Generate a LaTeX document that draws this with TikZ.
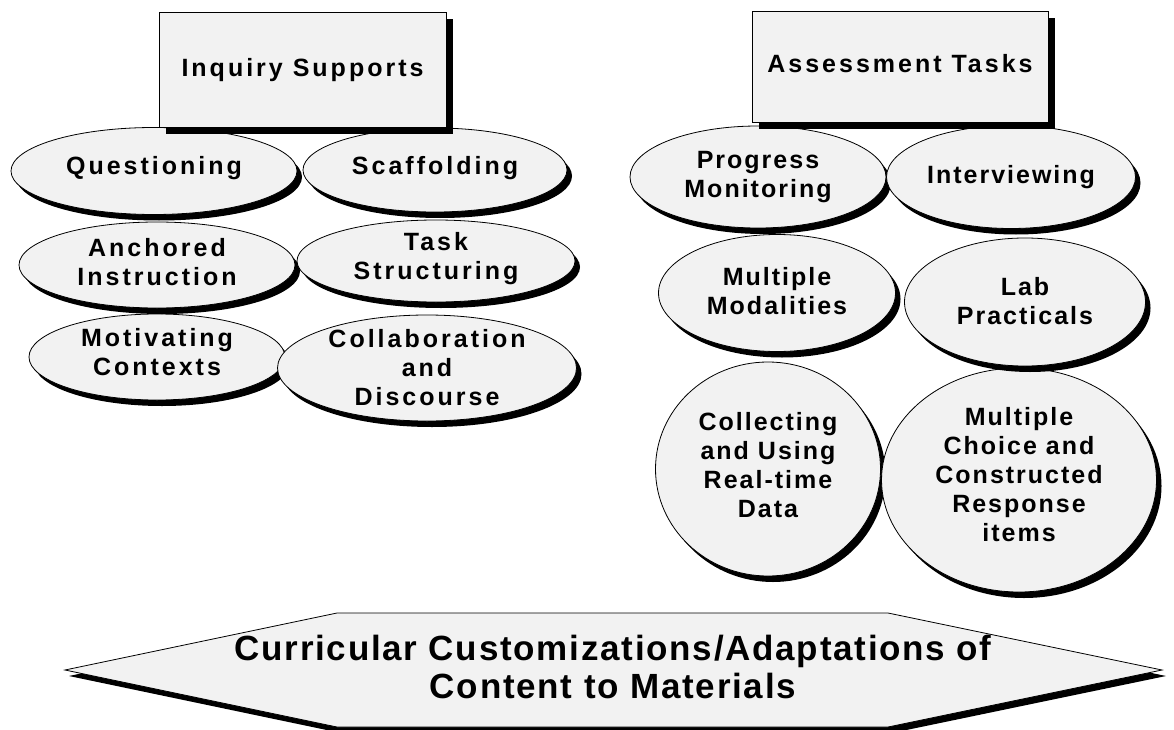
\documentclass[tikz,border=0pt]{standalone}
\usepackage{fontspec}
\usetikzlibrary{shapes.geometric,shadows}
\newfontfamily\lblfontL[LetterSpace=12]{Liberation Sans}
\newfontfamily\lblfontR[LetterSpace=8]{Liberation Sans}
\newfontfamily\bigfont[LetterSpace=5]{Liberation Sans}
\definecolor{shapegray}{RGB}{242,242,242}
\begin{document}
\begin{tikzpicture}[x=1pt,y=-1pt,
  oval/.style={ellipse, draw=black, line width=0.8pt, fill=shapegray, inner sep=0pt, outer sep=0pt,
    drop shadow={shadow xshift=5pt, shadow yshift=-6pt, fill=black, opacity=1}},
  titlebox/.style={rectangle, draw=black, line width=0.8pt, fill=shapegray, inner sep=0pt, outer sep=0pt,
    drop shadow={shadow xshift=7pt, shadow yshift=-7pt, fill=black, opacity=1}},
  titletext/.style={inner sep=0pt, font=\lblfontL\fontsize{25}{29}\bfseries},
  lblL/.style={align=center, inner sep=0pt, font=\lblfontL\fontsize{25}{29}\bfseries},
  lblR/.style={align=center, inner sep=0pt, font=\lblfontR\fontsize{25}{29}\bfseries},
  banner/.style={draw=black, line width=0.8pt, fill=shapegray,
    drop shadow={shadow xshift=4pt, shadow yshift=-6pt, fill=black, opacity=1}},
  bannertext/.style={align=center, inner sep=0pt, font=\bigfont\fontsize{35}{38}\bfseries}
]
\fill[white] (0,0) rectangle (1174,730);
\useasboundingbox (0,0) rectangle (1174,730);

% ---- left group (bottom rows first) ----
\node[oval, minimum width=256, minimum height=86] (mot) at (157,357) {};
\node[lblL] (motT) at (157,352) {Motivating\\Contexts};
\node[oval, minimum width=299, minimum height=106] (col) at (427,368) {};
\node[lblL] (colT) at (427,368) {Collaboration\\and\\Discourse};

\node[oval, minimum width=276, minimum height=86] (anc) at (157,265) {};
\node[lblL] (ancT) at (157,262) {Anchored\\Instruction};
\node[oval, minimum width=278, minimum height=82] (tsk) at (436,261) {};
\node[lblL] (tskT) at (436,259) {Task\\Structuring};

\node[oval, minimum width=286, minimum height=87] (que) at (154,171) {};
\node[lblL] (queT) at (154,168) {Questioning};
\node[oval, minimum width=264, minimum height=84] (sca) at (435,170) {};
\node[lblL] (scaT) at (435,168) {Scaffolding};

\node[titlebox, minimum width=287, minimum height=115] (inq) at (302.5,69.5) {};
\node[titletext] (inqT) at (302.5,70) {Inquiry Supports};

% ---- right group (bottom rows first) ----
\node[oval, minimum width=225, minimum height=214] (clc) at (768,469) {};
\node[lblR] (clcT) at (768,465) {Collecting\\and Using\\Real-time\\Data};
\node[oval, minimum width=275, minimum height=224] (mcq) at (1019,480) {};
\node[lblR] (mcqT) at (1019,475) {Multiple\\Choice and\\Constructed\\Response\\items};

\node[oval, minimum width=237, minimum height=117] (mmo) at (777,293) {};
\node[lblR] (mmoT) at (777,291) {Multiple\\Modalities};
\node[oval, minimum width=241, minimum height=128] (lab) at (1025,302) {};
\node[lblR] (labT) at (1025,301) {Lab\\Practicals};

\node[oval, minimum width=256, minimum height=102] (prg) at (758,177) {};
\node[lblR] (prgT) at (758,177) {Progress\\Monitoring};
\node[oval, minimum width=249, minimum height=103] (int) at (1011,177) {};
\node[lblR] (intT) at (1011,177) {Interviewing};

\node[titlebox, minimum width=296, minimum height=111] (ass) at (900,66.5) {};
\node[titletext] (assT) at (900,64) {Assessment Tasks};

% ---- bottom banner ----
\coordinate (bL) at (65,670);
\coordinate (bTL) at (337,613);
\coordinate (bTR) at (888,613);
\coordinate (bR) at (1162,670);
\coordinate (bBR) at (888,727);
\coordinate (bBL) at (337,727);
\path[banner] (bL) -- (bTL) -- (bTR) -- (bR) -- (bBR) -- (bBL) -- cycle;
\node[bannertext] (cur) at (613,667) {Curricular Customizations/Adaptations of\\Content to Materials};
\end{tikzpicture}
\end{document}
